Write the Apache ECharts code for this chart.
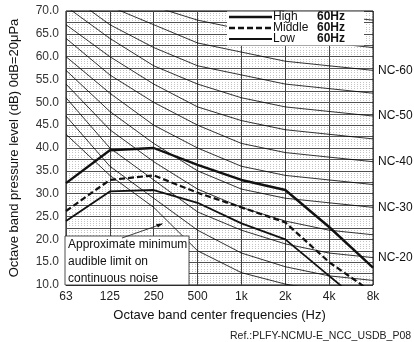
<!DOCTYPE html>
<html><head><meta charset="utf-8">
<script src="https://cdn.jsdelivr.net/npm/echarts@6/dist/echarts.min.js"></script>
<style>html,body{margin:0;padding:0;background:#fff}#c{width:414px;height:342px}</style>
</head><body><div id="c"></div>
<script>
const freqs = ['63','125','250','500','1k','2k','4k','8k'];
const yTicks = [10,15,20,25,30,35,40,45,50,55,60,65,70];
// NC reference curves
const NC15 = [47,36,29,22,17,14,12,11];
const NC20 = [51,40,33,26,22,19,17,16];
const NC25 = [54,44,37,31,27,24,22,21];
const NC30 = [57,48,41,35,31,29,28,27];
const NC35 = [60,52,45,40,36,34,33,32];
const NC40 = [64,56,50,45,41,39,38,37];
const NC45 = [67,60,54,49,46,44,43,42];
const NC50 = [71,64,58,54,51,49,48,47];
const NC55 = [74,67,62,58,56,54,53,52];
const NC60 = [77,71,67,63,61,59,58,57];
const NC65 = [80,75,71,68,66,64,63,62];
const NC70 = [83,79,75,72,71,70,69,68];
const ncNames = ['NC-15','NC-20','NC-25','NC-30','NC-35','NC-40','NC-45','NC-50','NC-55','NC-60','NC-65','NC-70'];
const ncLabelled = ['NC-20','NC-30','NC-40','NC-50','NC-60'];
// approximate minimum audible limit
const audible = [43,34,27,17.5,12.7,10.2,8.5,7.5];
// unit sound levels
const high = [32.3,39.5,40,36.3,33,30.8,22.7,13.8];
const middle = [26.2,33,34,30.2,27,23.7,15,8.3];
const low = [24,30.5,30.8,28,23.5,20,12,4];
const legendNames = ['High','Middle','Low'];
const legendFreq = ['60Hz','60Hz','60Hz'];

const ncData = [NC15,NC20,NC25,NC30,NC35,NC40,NC45,NC50,NC55,NC60,NC65,NC70];
const FONT = 'Liberation Sans, Arial, sans-serif';
const chart = echarts.init(document.getElementById('c'), null, {renderer:'canvas'});

const series = [];
ncData.forEach((d,i)=>{
  const lab = ncLabelled.indexOf(ncNames[i])>=0;
  series.push({type:'line', name:ncNames[i], data:d, symbol:'none', silent:true,
    lineStyle:{color:'#000', width:0.8}, z:3,
    endLabel:{show:lab, formatter:ncNames[i], color:'#111', fontSize:12, fontFamily:FONT, distance:5}});
});
series.push({type:'line', name:'audible', data:audible, symbol:'none', lineStyle:{color:'#000', width:0.8}, z:3});
series.push({type:'line', name:'Low', data:low, symbol:'none', lineStyle:{color:'#111', width:1.8}, z:5});
series.push({type:'line', name:'Middle', data:middle, symbol:'none', lineStyle:{color:'#111', width:2.2, type:[6,3]}, z:5});
series.push({type:'line', name:'High', data:high, symbol:'none', lineStyle:{color:'#111', width:2.4}, z:5});

const L = 65, T = 11, R = 373, B = 285;
const graphics = [
  {type:'rect', shape:{x:227,y:T+0.5,width:137,height:34}, style:{fill:'#fff'}, z:100},
];
const legStyles = [{w:2.4,d:null},{w:2.4,d:[6,3]},{w:1.8,d:null}];
legendNames.forEach((n,i)=>{
  const y = T + 6 + i*11;
  graphics.push({type:'line', shape:{x1:229,y1:y,x2:272,y2:y}, style:{stroke:'#111', lineWidth:legStyles[i].w, lineDash:legStyles[i].d}, z:101});
  graphics.push({type:'text', x:273, y:y, style:{text:n, font:'12px '+FONT, fill:'#111', textVerticalAlign:'middle'}, z:101});
  graphics.push({type:'text', x:317, y:y, style:{text:legendFreq[i], font:'bold 12px '+FONT, fill:'#111', textVerticalAlign:'middle'}, z:101});
});
graphics.push({type:'rect', shape:{x:L,y:236,width:124,height:B-236}, style:{fill:'#fff', stroke:'#222', lineWidth:0.8}, z:100});
['Approximate minimum','audible limit on','continuous noise'].forEach((t,i)=>{
  graphics.push({type:'text', x:68, y:245+i*17, style:{text:t, font:'12px '+FONT, fill:'#111', textVerticalAlign:'middle'}, z:101});
});
graphics.push({type:'line', shape:{x1:122,y1:238,x2:162,y2:224}, style:{stroke:'#111', lineWidth:0.8}, z:101});
graphics.push({type:'polygon', shape:{points:[[163,223.5],[156,224],[158,227.5]]}, style:{fill:'#111'}, z:101});
graphics.push({type:'text', x:230, y:336, style:{text:'Ref.:PLFY-NCMU-E_NCC_USDB_P08', font:'10.5px '+FONT, fill:'#222', textVerticalAlign:'middle'}, z:101});

chart.setOption({
  animation:false,
  backgroundColor:'#fff',
  grid:{left:L, top:T, width:R-L, height:B-T, show:true, borderColor:'#000', borderWidth:1, backgroundColor:'transparent'},
  xAxis:{type:'category', data:freqs, boundaryGap:false,
    axisLine:{show:false}, axisTick:{show:false},
    axisLabel:{color:'#222', fontSize:12, fontFamily:FONT, margin:6},
    splitLine:{show:true, lineStyle:{color:'#444', width:1}},
    name:'Octave band center frequencies (Hz)', nameLocation:'middle', nameGap:24,
    nameTextStyle:{color:'#111', fontSize:13, fontFamily:FONT}},
  yAxis:[
    {type:'value', min:yTicks[0], max:yTicks[yTicks.length-1], interval:5,
     axisLine:{show:false}, axisTick:{show:false},
     axisLabel:{color:'#333', fontSize:12, fontFamily:FONT, margin:7, formatter:v=>v.toFixed(1)},
     splitLine:{show:false},
     name:'Octave band pressure level (dB) 0dB=20μPa', nameLocation:'middle', nameGap:45,
     nameTextStyle:{color:'#111', fontSize:13, fontFamily:FONT}},
    {type:'value', min:10, max:70, interval:2.5, position:'left',
     axisLine:{show:false}, axisTick:{show:false}, axisLabel:{show:false},
     splitLine:{show:true, lineStyle:{color:'#222', width:0.8}},
     minorTick:{show:false, splitNumber:5},
     minorSplitLine:{show:true, lineStyle:{color:'#aaa', width:0.7, type:[1,2]}}}
  ],
  series:series,
  graphic:graphics
});
</script></body></html>
